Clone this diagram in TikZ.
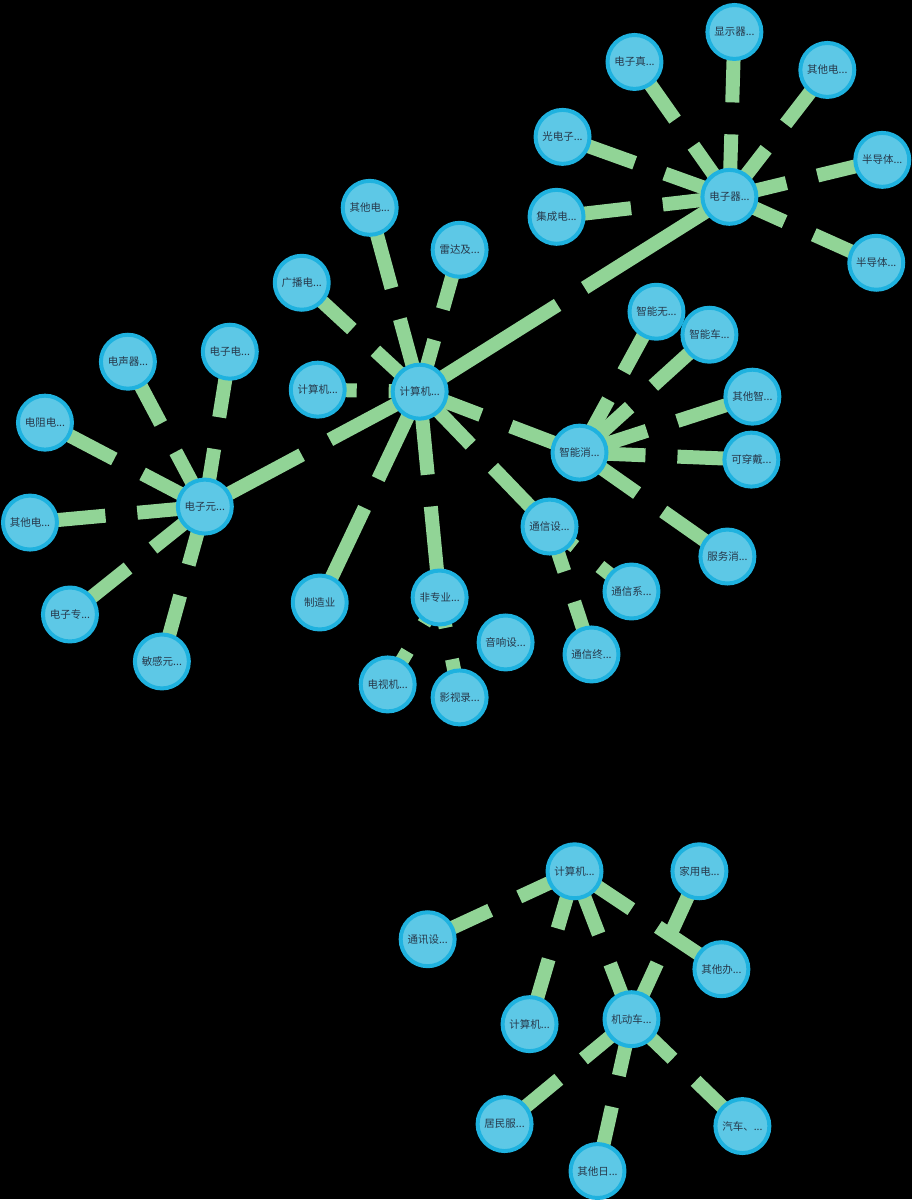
\documentclass[tikz,border=0pt]{standalone}
\usepackage{fontspec}
\setmainfont{Noto Sans CJK SC}
\usetikzlibrary{calc,backgrounds}
\definecolor{nodeblue}{HTML}{5DC8E6}
\definecolor{ringblue}{HTML}{1FB2DF}
\definecolor{spokegreen}{HTML}{91D496}
\definecolor{labelnavy}{HTML}{27384A}

% two stubs per link, with a gap near the middle
\newcommand\spokes[2]{%
  \draw[spoke] (#1.center) -- ($(#1.center)!0.5!(#2.center)!12pt!(#1.center)$);
  \draw[spoke] (#2.center) -- ($(#2.center)!0.5!(#1.center)!20pt!(#2.center)$);
}

\begin{document}
\begin{tikzpicture}[x=1pt, y=-1pt,
    ent/.style={circle, draw=ringblue, line width=4pt, fill=nodeblue, minimum size=54pt, inner sep=0pt, font=\fontsize{10.5}{12}\selectfont, text=labelnavy},
    spoke/.style={line width=14pt, spokegreen}
  ]
    \node[ent] (qj) at (730,197) {电子器...};
    \node[ent] (xsq) at (735,32) {显示器...};
    \node[ent] (dzz) at (635,62) {电子真...};
    \node[ent] (qtA) at (828,70) {其他电...};
    \node[ent] (gdz) at (563,137) {光电子...};
    \node[ent] (bdt1) at (883,160) {半导体...};
    \node[ent] (jcd) at (557,217) {集成电...};
    \node[ent] (bdt2) at (877,263) {半导体...};

    \node[ent] (jsj) at (420,392) {计算机...};
    \node[ent] (qtB) at (370,208) {其他电...};
    \node[ent] (ldj) at (460,250) {雷达及...};
    \node[ent] (gbd) at (302,283) {广播电...};
    \node[ent] (jsjB) at (318,390) {计算机...};
    \node[ent] (zzy) at (320,603) {制造业};
    \node[ent] (fzy) at (440,598) {非专业...};
    \node[ent] (yxs) at (506,643) {音响设...};
    \node[ent] (dsj) at (388,685) {电视机...};
    \node[ent] (ysl) at (460,698) {影视录...};

    \node[ent] (dzy) at (205,507) {电子元...};
    \node[ent] (dsq) at (128,362) {电声器...};
    \node[ent] (dzd) at (230,352) {电子电...};
    \node[ent] (dzdr) at (45,423) {电阻电...};
    \node[ent] (qtC) at (30,523) {其他电...};
    \node[ent] (dzzy) at (70,615) {电子专...};
    \node[ent] (mgy) at (162,662) {敏感元...};

    \node[ent] (znx) at (580,453) {智能消...};
    \node[ent] (znw) at (657,312) {智能无...};
    \node[ent] (znc) at (710,335) {智能车...};
    \node[ent] (qtz) at (753,397) {其他智...};
    \node[ent] (kcd) at (752,460) {可穿戴...};
    \node[ent] (fwx) at (728,557) {服务消...};

    \node[ent] (txs) at (550,527) {通信设...};
    \node[ent] (txx) at (632,592) {通信系...};
    \node[ent] (txz) at (592,655) {通信终...};

    \node[ent] (jsjT) at (575,872) {计算机...};
    \node[ent] (jyd) at (700,872) {家用电...};
    \node[ent] (txy) at (428,940) {通讯设...};
    \node[ent] (qtb) at (722,970) {其他办...};
    \node[ent] (jsjM) at (530,1025) {计算机...};
    \node[ent] (jdc) at (632,1020) {机动车...};
    \node[ent] (jmf) at (505,1125) {居民服...};
    \node[ent] (qtr) at (598,1172) {其他日...};
    \node[ent] (qc) at (743,1127) {汽车、...};

    \begin{scope}[on background layer]
      \fill[black] (0,0) rectangle (913,1200);
      \spokes{xsq}{qj} \spokes{dzz}{qj} \spokes{qtA}{qj} \spokes{gdz}{qj}
      \spokes{bdt1}{qj} \spokes{jcd}{qj} \spokes{bdt2}{qj} \spokes{qj}{jsj}
      \spokes{qtB}{jsj} \spokes{ldj}{jsj} \spokes{gbd}{jsj} \spokes{jsjB}{jsj}
      \spokes{zzy}{jsj} \spokes{fzy}{jsj} \spokes{dzy}{jsj} \spokes{znx}{jsj}
      \spokes{txs}{jsj}
      \spokes{yxs}{fzy} \spokes{dsj}{fzy} \spokes{ysl}{fzy}
      \spokes{dsq}{dzy} \spokes{dzd}{dzy} \spokes{dzdr}{dzy} \spokes{qtC}{dzy}
      \spokes{dzzy}{dzy} \spokes{mgy}{dzy}
      \spokes{znw}{znx} \spokes{znc}{znx} \spokes{qtz}{znx} \spokes{kcd}{znx}
      \spokes{fwx}{znx}
      \spokes{txx}{txs} \spokes{txz}{txs}
      \spokes{txy}{jsjT} \spokes{qtb}{jsjT} \spokes{jsjM}{jsjT} \spokes{jsjT}{jdc}
      \spokes{jyd}{jdc} \spokes{jmf}{jdc} \spokes{qtr}{jdc} \spokes{qc}{jdc}
    \end{scope}
\end{tikzpicture}
\end{document}
